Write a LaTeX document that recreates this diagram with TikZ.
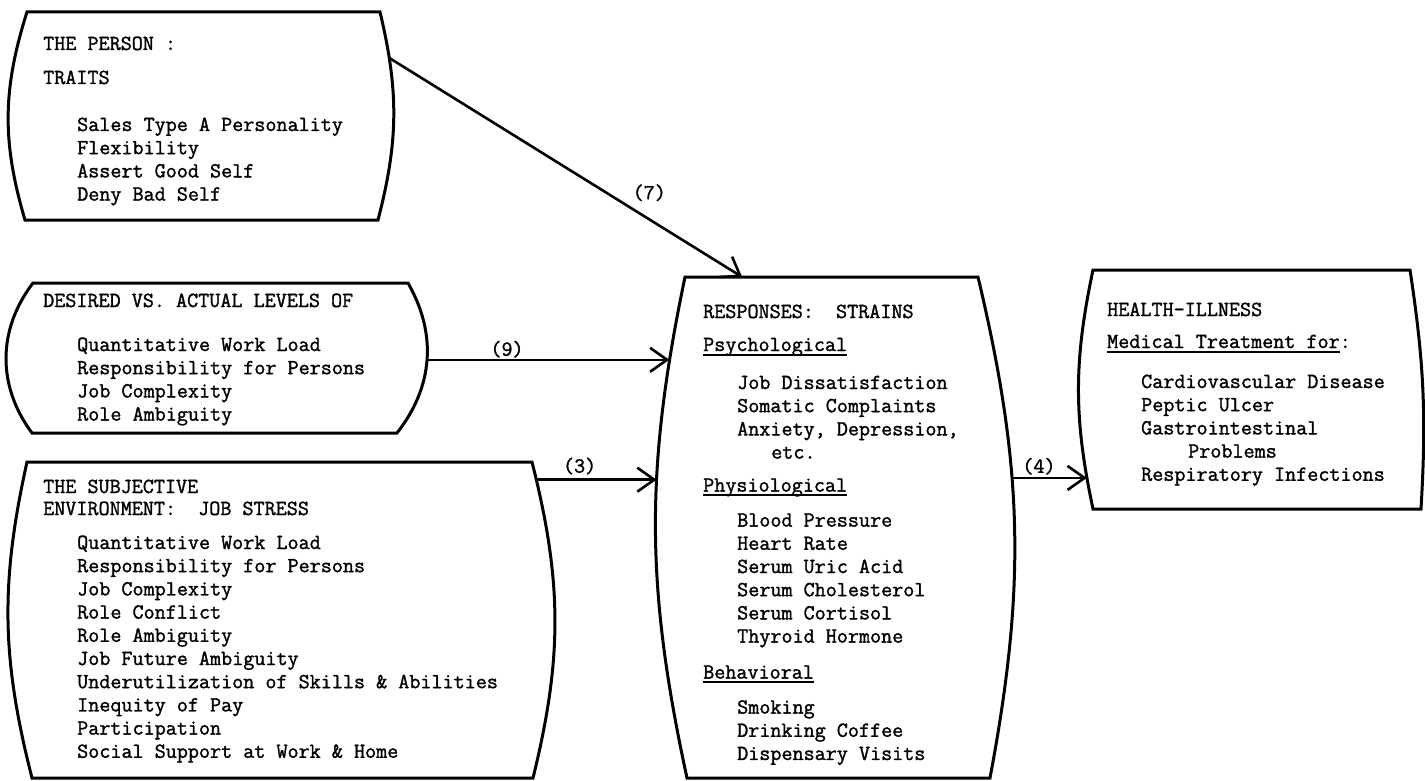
\documentclass[tikz,border=0pt]{standalone}
\usepackage{fontspec}
\usetikzlibrary{arrows.meta}

\newfontfamily\typewriter{Latin Modern Mono}[FakeBold=1.4]
\newcommand{\boxfont}{\typewriter\fontsize{21.5}{23.2}\selectfont}
\newcommand{\ind}{\hspace*{34pt}}
\newcommand{\ul}[1]{\sbox0{#1}\rlap{\rule[-4.5pt]{\wd0}{1.8pt}}\usebox0}

\begin{document}
\begin{tikzpicture}[x=1pt,y=-1pt,
    frame/.style={line width=3pt},
    arr/.style={line width=2.6pt,-{Straight Barb[length=17pt,width=24pt]}},
    txt/.style={anchor=base west,inner sep=0pt,font=\boxfont},
    lbl/.style={inner sep=0pt,font=\boxfont}]
	\useasboundingbox (0,0) rectangle (1425,781);
	\draw[frame] (27,12) -- (380,12) to[bend left=14] coordinate[pos=.207] (person-out) (378,220) -- (25,220) to[bend left=17] cycle;
	\draw[frame] (33,283) -- (408,283) to[bend left=34] coordinate[pos=.5] (desired-out) (397,433) -- (32,433) to[bend left=37] cycle;
	\draw[frame] (27,462) -- (532,462) to[bend left=14] coordinate[pos=.05] (subj-out) (533,778) -- (32,778) to[bend left=13.4] cycle;
	\draw[frame] (685,277) -- coordinate[pos=.195] (resp-top) (978,277) to[bend left=12] coordinate[pos=.395] (resp-out) (990,778) -- (687,778) to[bend left=12] coordinate[pos=.603] (resp-in3) coordinate[pos=.845] (resp-in9) cycle;
	\draw[frame] (1093,270) -- (1410,270) to[bend left=6] (1421,509) -- (1093,509) to[bend left=12] coordinate[pos=.122] (health-in) cycle;
	\node[txt] (person) at (43,50) {\begin{tabular}[t]{@{}l@{}}
		THE PERSON :\\[10.8pt]
		TRAITS\\[23.8pt]
		\ind Sales Type A Personality\\
		\ind Flexibility\\
		\ind Assert Good Self\\
		\ind Deny Bad Self
	\end{tabular}};
	\node[txt] (desired) at (43,307) {\begin{tabular}[t]{@{}l@{}}
		DESIRED VS. ACTUAL LEVELS OF\\[20.8pt]
		\ind Quantitative Work Load\\
		\ind Responsibility for Persons\\
		\ind Job Complexity\\
		\ind Role Ambiguity
	\end{tabular}};
	\node[txt] (subj) at (43,493) {\begin{tabular}[t]{@{}l@{}}
		THE SUBJECTIVE\\[-1.2pt]
		ENVIRONMENT:~ JOB STRESS\\[10.8pt]
		\ind Quantitative Work Load\\
		\ind Responsibility for Persons\\
		\ind Job Complexity\\
		\ind Role Conflict\\
		\ind Role Ambiguity\\
		\ind Job Future Ambiguity\\
		\ind Underutilization of Skills \& Abilities\\
		\ind Inequity of Pay\\
		\ind Participation\\
		\ind Social Support at Work \& Home
	\end{tabular}};
	\node[txt] (resp) at (703,318) {\begin{tabular}[t]{@{}l@{}}
		RESPONSES:~ STRAINS\\[9.8pt]
		\ul{Psychological}\\[14.8pt]
		\ind Job Dissatisfaction\\
		\ind Somatic Complaints\\
		\ind Anxiety, Depression,\\
		\hspace*{68pt}etc.\\[9.8pt]
		\ul{Physiological}\\[11.8pt]
		\ind Blood Pressure\\
		\ind Heart Rate\\
		\ind Serum Uric Acid\\
		\ind Serum Cholesterol\\
		\ind Serum Cortisol\\
		\ind Thyroid Hormone\\[12.8pt]
		\ul{Behavioral}\\[11.8pt]
		\ind Smoking\\
		\ind Drinking Coffee\\
		\ind Dispensary Visits
	\end{tabular}};
	\node[txt] (health) at (1107,316) {\begin{tabular}[t]{@{}l@{}}
		HEALTH-ILLNESS\\[8.8pt]
		\ul{Medical Treatment for}:\\[16.8pt]
		\ind Cardiovascular Disease\\
		\ind Peptic Ulcer\\
		\ind Gastrointestinal\\
		\hspace*{81pt}Problems\\
		\ind Respiratory Infections
	\end{tabular}};
	\draw[arr] (person-out) -- node[lbl,pos=.737,above=17pt] (l7) {(7)} (resp-top);
	\draw[arr] (desired-out) -- node[lbl,pos=.33,above=1pt] (l9) {(9)} (desired-out -| resp-in9);
	\draw[arr] (subj-out) -- node[lbl,pos=.36,above=4pt] (l3) {(3)} (subj-out -| resp-in3);
	\draw[arr] (resp-out) -- node[lbl,pos=.36,above=2pt] (l4) {(4)} (resp-out -| health-in);
\end{tikzpicture}
\end{document}
